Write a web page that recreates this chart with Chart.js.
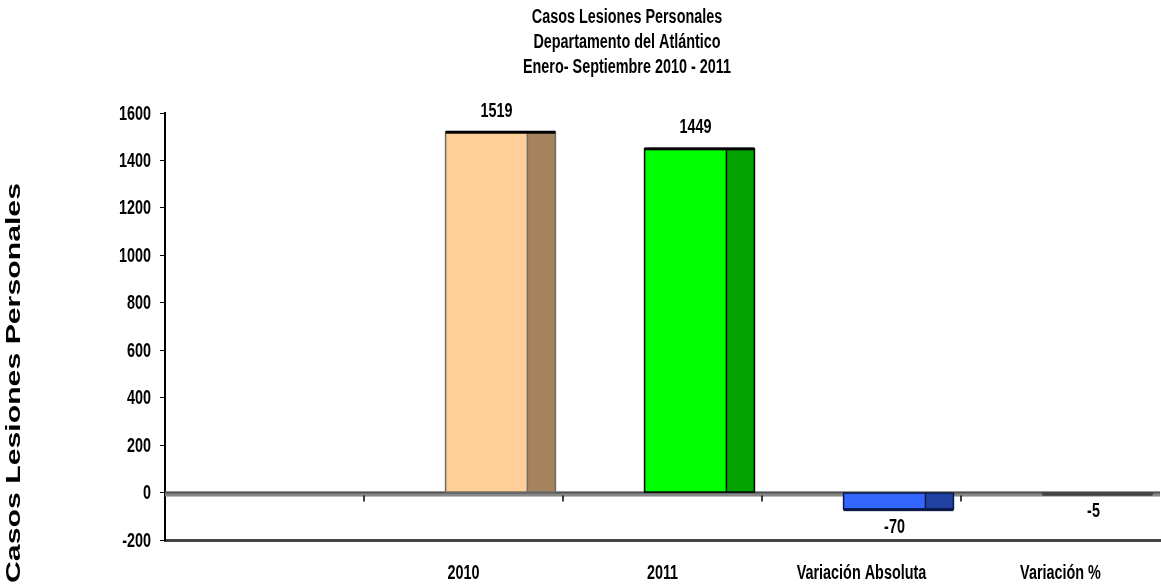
<!DOCTYPE html>
<html>
<head>
<meta charset="utf-8">
<script src="https://cdn.jsdelivr.net/npm/chart.js@4/dist/chart.umd.min.js"></script>
<style>
  html, body { margin: 0; padding: 0; background: #fff; }
  #wrap { width: 1161px; height: 585px; }
</style>
</head>
<body>
<div id="wrap"><canvas id="chart" width="1161" height="585"></canvas></div>
<script>
const categories = ["", "2010", "2011", "Variación Absoluta", "Variación %"];
const casos = [null, 1519, 1449, -70, -5];
const valueLabels = ["", "1519", "1449", "-70", "-5"];
const titleLines = ["Casos Lesiones Personales", "Departamento del Atlántico", "Enero- Septiembre 2010 - 2011"];
const yTitle = "Casos Lesiones Personales";
const yMin = -200, yMax = 1600, yStep = 200;

const frontColors = ["#ffffff", "#ffcf99", "#00ff00", "#3366ff", "#444444"];
const sideColors = ["#ffffff", "#a5835f", "#00a300", "#2142a3", "#444444"];
const edgeColors = ["#ffffff", "#6b6b6b", "#000000", "#0c1a4a", "#444444"];

const FONT = "bold 20px 'Liberation Sans', Arial, sans-serif";
const SQUEEZE = 0.72;
const SHIFT = 37;

// draws bold text squeezed horizontally like the original narrow font
function narrowText(ctx, text, x, y, align) {
  ctx.save();
  ctx.font = FONT;
  ctx.fillStyle = "#000";
  ctx.textBaseline = "middle";
  ctx.textAlign = align || "center";
  ctx.translate(x, y);
  ctx.scale(SQUEEZE, 1);
  ctx.fillText(text, 0, 0);
  ctx.restore();
}

const threeD = {
  id: "threeD",
  beforeDatasetsDraw(chart) {
    const ctx = chart.ctx, area = chart.chartArea;
    const y0 = chart.scales.y.getPixelForValue(0);
    ctx.save();
    ctx.fillStyle = "#888888";
    ctx.fillRect(area.left, y0 - 1, area.right - area.left, 5);
    ctx.fillStyle = "#555555";
    ctx.fillRect(area.left, y0 - 1, area.right - area.left, 2);
    ctx.restore();
    ctx.save();
    ctx.translate(SHIFT, 0);
  },
  afterDatasetsDraw(chart) {
    const ctx = chart.ctx;
    const meta = chart.getDatasetMeta(0);
    meta.data.forEach((el, i) => {
      if (casos[i] === null) return;
      const top = Math.min(el.y, el.base);
      const bot = Math.max(el.y, el.base);
      const right = el.x + el.width / 2;
      const left = el.x - el.width / 2;
      const sideW = el.width * 0.255;
      ctx.fillStyle = sideColors[i];
      ctx.fillRect(right - sideW, top, sideW, bot - top);
      ctx.strokeStyle = edgeColors[i];
      ctx.lineWidth = 1.5;
      ctx.beginPath();
      ctx.moveTo(right - sideW, top);
      ctx.lineTo(right - sideW, bot);
      ctx.stroke();
      ctx.strokeRect(left, top, el.width, bot - top);
      if (casos[i] > 0) {
        ctx.fillStyle = "#000";
        ctx.fillRect(left, top - 1.5, el.width, 3);
      } else {
        ctx.fillStyle = edgeColors[i];
        ctx.fillRect(left, bot - 1, el.width, 3);
      }
      const ly = casos[i] >= 0 ? el.y - 21 : el.y + 18;
      narrowText(ctx, valueLabels[i], el.x - 4, ly);
    });
    ctx.restore();

    // category ticks on the zero line
    const ys = chart.scales.y, xs = chart.scales.x;
    const y0 = ys.getPixelForValue(0);
    ctx.save();
    ctx.strokeStyle = "#000";
    ctx.lineWidth = 1.5;
    for (let i = 1; i < categories.length; i++) {
      const bx = (xs.getPixelForTick(i - 1) + xs.getPixelForTick(i)) / 2;
      ctx.beginPath();
      ctx.moveTo(bx, y0 + 3);
      ctx.lineTo(bx, y0 + 9);
      ctx.stroke();
    }
    ctx.restore();
  },
  afterDraw(chart) {
    const ctx = chart.ctx;
    const ys = chart.scales.y, xs = chart.scales.x;
    // title
    titleLines.forEach((t, i) => narrowText(ctx, t, 627, 17 + i * 25));
    // y tick labels
    ys.ticks.forEach((tk, i) => {
      narrowText(ctx, String(tk.value), ys.right - 14, ys.getPixelForTick(i) + 1, "right");
    });
    // x labels
    categories.forEach((c, i) => {
      narrowText(ctx, c, xs.getPixelForTick(i), 573);
    });
    // y axis title, stretched along its direction
    ctx.save();
    ctx.font = FONT;
    ctx.fillStyle = "#000";
    ctx.textBaseline = "middle";
    ctx.textAlign = "center";
    const w = ctx.measureText(yTitle).width;
    ctx.translate(14, 383);
    ctx.rotate(-Math.PI / 2);
    ctx.scale(400 / w, 1);
    ctx.fillText(yTitle, 0, 0);
    ctx.restore();
  }
};

new Chart(document.getElementById("chart"), {
  type: "bar",
  data: {
    labels: categories,
    datasets: [{
      label: "Casos Lesiones Personales",
      data: casos,
      backgroundColor: frontColors,
      borderWidth: 0,
      barPercentage: 0.552,
      categoryPercentage: 1
    }]
  },
  options: {
    responsive: false,
    animation: false,
    layout: { padding: { top: 113, right: 1, left: 0, bottom: 0 } },
    plugins: {
      legend: { display: false },
      tooltip: { enabled: false },
      title: { display: false }
    },
    scales: {
      x: {
        grid: { drawOnChartArea: false, drawTicks: false },
        border: { color: "#444444", width: 3 },
        ticks: { display: false },
        afterFit(scale) { scale.height = 45; }
      },
      y: {
        min: yMin,
        max: yMax,
        ticks: { stepSize: yStep, display: false },
        grid: { drawOnChartArea: false, color: "#000", tickLength: 5 },
        border: { color: "#000", width: 2 },
        afterFit(scale) { scale.width = 165; }
      }
    }
  },
  plugins: [threeD]
});
</script>
</body>
</html>
